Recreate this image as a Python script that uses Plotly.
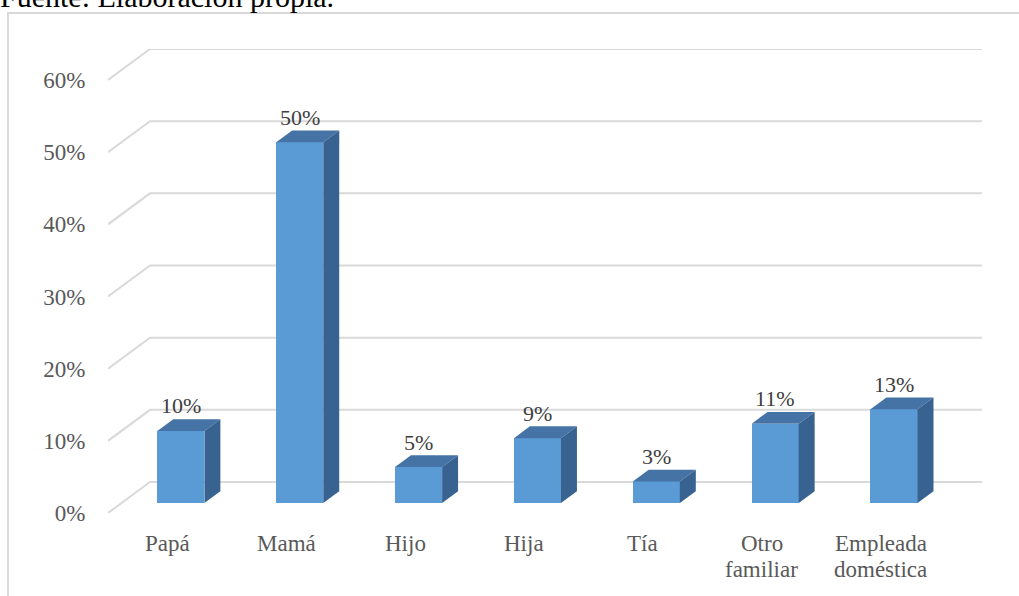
import plotly.graph_objects as go

# Data
categories = ["Papá", "Mamá", "Hijo", "Hija", "Tía", "Otro<br>familiar", "Empleada<br>doméstica"]
values = [10, 50, 5, 9, 3, 11, 13]
y_ticks = [0, 10, 20, 30, 40, 50, 60]
y_tick_labels = ["0%", "10%", "20%", "30%", "40%", "50%", "60%"]
source_note = "Fuente: Elaboración propia."

# Oblique 3-D geometry (in axis units)
DX = 0.3535          # depth offset along x (category units)
DY = 4.295           # depth offset along y (percent units)
D0, D1 = 0.32, 0.70  # front / back of each column inside the depth
BAR_W = 0.396

FRONT = "#5B9BD5"
TOP = "#4573A5"
SIDE = "#386290"
GRID = "#D9D9D9"
SERIF = "Times New Roman, Liberation Serif, serif"

W, H = 1019, 596
ML, MR, MT, MB = 108, 37, 49, 83
PW, PH = W - ML - MR, H - MT - MB

n = len(categories)
x_lo, x_hi = -0.5, n - 0.5 + DX
y_lo, y_hi = 0, max(y_ticks) + DY

fig = go.Figure()

# Back-wall gridlines with their diagonal floor edge
shapes = []
for t in y_ticks:
    path = (f"M {x_lo},{t} L {x_lo + DX},{t + DY} L {n - 0.5 + DX},{t + DY}")
    shapes.append(dict(type="path", xref="x", yref="y", path=path,
                       line=dict(color=GRID, width=2), layer="below"))

# Front faces of the columns
x_front = [i + D0 * DX for i in range(n)]
base = D0 * DY
fig.add_trace(go.Bar(x=x_front, y=values, base=[base] * n, width=BAR_W,
                     marker=dict(color=FRONT, line=dict(width=0)),
                     hoverinfo="skip", showlegend=False))

ddx = (D1 - D0) * DX
ddy = (D1 - D0) * DY
for xc, v in zip(x_front, values):
    xl, xr = xc - BAR_W / 2, xc + BAR_W / 2
    yb, yt = base, base + v
    # top face
    fig.add_trace(go.Scatter(
        x=[xl, xr, xr + ddx, xl + ddx, xl], y=[yt, yt, yt + ddy, yt + ddy, yt],
        fill="toself", fillcolor=TOP, mode="lines", line=dict(width=0, color=TOP),
        hoverinfo="skip", showlegend=False))
    # side face
    fig.add_trace(go.Scatter(
        x=[xr, xr, xr + ddx, xr + ddx, xr], y=[yb, yt, yt + ddy, yb + ddy, yb],
        fill="toself", fillcolor=SIDE, mode="lines", line=dict(width=0, color=SIDE),
        hoverinfo="skip", showlegend=False))

annotations = []
# Value labels above each column
for xc, v in zip(x_front, values):
    annotations.append(dict(x=xc, y=base + v, xref="x", yref="y", text=f"{v}%",
                            showarrow=False, yanchor="middle", yshift=25,
                            font=dict(family=SERIF, size=22, color="#404040")))

# Category labels along the front edge
for i, cat in enumerate(categories):
    for k, line in enumerate(cat.split("<br>")):
        annotations.append(dict(x=i, y=0, xref="x", yref="y", text=line,
                                showarrow=False, yanchor="middle",
                                yshift=-30 - 26 * k,
                                font=dict(family=SERIF, size=23, color="#595959")))

# Source note running off the top edge of the page
annotations.append(dict(x=(-2 - ML) / PW, y=(H - MB - 15) / PH, xref="paper", yref="paper",
                        text=source_note, showarrow=False, xanchor="left", yanchor="bottom",
                        font=dict(family=SERIF, size=30, color="#000000")))

# Outer frame
shapes.append(dict(type="rect", xref="paper", yref="paper",
                   x0=(8 - ML) / PW, x1=(W + 20 - ML) / PW,
                   y0=(H - MB - 13) / PH, y1=(H - MB - (H + 20)) / PH,
                   line=dict(color=GRID, width=2), fillcolor="rgba(0,0,0,0)", layer="below"))

fig.update_layout(
    width=W, height=H,
    margin=dict(l=ML, r=MR, t=MT, b=MB),
    paper_bgcolor="white", plot_bgcolor="white",
    shapes=shapes, annotations=annotations,
    xaxis=dict(range=[x_lo, x_hi], showgrid=False, zeroline=False, showline=False,
               showticklabels=False, fixedrange=True),
    yaxis=dict(range=[y_lo, y_hi], tickmode="array", tickvals=y_ticks, ticktext=y_tick_labels,
               showgrid=False, zeroline=False, showline=False,
               ticks="outside", ticklen=17, tickcolor="rgba(0,0,0,0)",
               tickfont=dict(family=SERIF, size=23, color="#595959"), fixedrange=True),
    bargap=0,
)

fig.write_html("out.html")
